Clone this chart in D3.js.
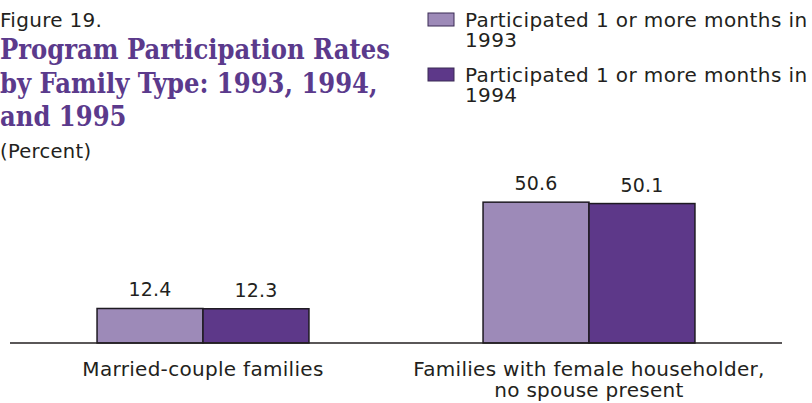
<!DOCTYPE html>
<html>
<head>
<meta charset="utf-8">
<script src="https://cdn.jsdelivr.net/npm/d3@7"></script>
<style>
  body { margin: 0; background: #fff; }
  svg { display: block; }
  .sans { font-family: "DejaVu Sans", sans-serif; fill: #231f20; }
  .title { font-family: "DejaVu Serif Condensed", "DejaVu Serif", serif; font-weight: bold; fill: #5b3a8c; }
</style>
</head>
<body>
<svg id="chart" width="812" height="403"></svg>
<script>
//
// Data
//
var categories = ["Married-couple families", "Families with female householder,\nno spouse present"];
var series = ["Participated 1 or more months in\n1993", "Participated 1 or more months in\n1994"];
var values1993 = [12.4, 50.6];
var values1994 = [12.3, 50.1];

var colors = ["#9d8ab8", "#5d3889"];

var svg = d3.select("#chart");

// Heading
svg.append("text").attr("class", "sans")
    .attr("x", 0).attr("y", 27)
    .style("font-size", "20px")
    .style("letter-spacing", "0.3px")
    .text("Figure 19.");

var titleLines = ["Program Participation Rates", "by Family Type: 1993, 1994,", "and 1995"];
svg.append("g").selectAll("text")
    .data(titleLines)
    .enter().append("text")
    .attr("class", "title")
    .attr("x", 0)
    .attr("y", function (d, i) { return 59 + i * 33.5; })
    .style("font-size", "27px")
    .text(function (d) { return d; });

svg.append("text").attr("class", "sans")
    .attr("x", 0).attr("y", 158)
    .style("font-size", "19.5px")
    .style("letter-spacing", "0.3px")
    .text("(Percent)");

// Legend
var legend = svg.append("g").selectAll("g")
    .data(series)
    .enter().append("g")
    .attr("transform", function (d, i) { return "translate(428," + (13 + i * 55) + ")"; });

legend.append("rect")
    .attr("width", 26).attr("height", 13)
    .attr("fill", function (d, i) { return colors[i]; })
    .attr("stroke", "#3a2a55").attr("stroke-width", 1);

legend.append("text").attr("class", "sans")
    .style("font-size", "20px")
    .style("letter-spacing", "0.4px")
    .selectAll("tspan")
    .data(function (d) { return d.split("\n"); })
    .enter().append("tspan")
    .attr("x", 37)
    .attr("y", function (d, i) { return 14 + i * 20; })
    .text(function (d) { return d; });

//
// Scales
//
var x0 = d3.scaleBand()
    .domain(categories)
    .range([10, 782])
    .paddingInner(0.451)
    .paddingOuter(0.2255);

var x1 = d3.scaleBand()
    .domain([0, 1])
    .range([0, x0.bandwidth()]);

var y = d3.scaleLinear()
    .domain([0, 60])
    .range([343, 176]);

var rows = categories.map(function (c, i) {
    return {cat: c, vals: [values1993[i], values1994[i]]};
});

var groups = svg.append("g").selectAll("g")
    .data(rows)
    .enter().append("g")
    .attr("transform", function (d) { return "translate(" + x0(d.cat) + ",0)"; });

groups.selectAll("rect")
    .data(function (d) { return d.vals; })
    .enter().append("rect")
    .attr("x", function (d, i) { return x1(i); })
    .attr("y", function (d) { return y(d); })
    .attr("width", x1.bandwidth())
    .attr("height", function (d) { return y(0) - y(d); })
    .attr("fill", function (d, i) { return colors[i]; })
    .attr("stroke", "#1e1a22")
    .attr("stroke-width", 1.5);

groups.selectAll("text.val")
    .data(function (d) { return d.vals; })
    .enter().append("text")
    .attr("class", "sans val")
    .attr("x", function (d, i) { return x1(i) + x1.bandwidth() / 2; })
    .attr("y", function (d) { return y(d) - 12; })
    .attr("text-anchor", "middle")
    .style("font-size", "19px")
    .style("letter-spacing", "0.2px")
    .text(function (d) { return d.toFixed(1); });

// Baseline and category labels
svg.append("line")
    .attr("x1", x0.range()[0]).attr("x2", x0.range()[1])
    .attr("y1", y(0)).attr("y2", y(0))
    .attr("stroke", "#231f20").attr("stroke-width", 1.5);

svg.append("g").selectAll("text")
    .data(categories)
    .enter().append("text")
    .attr("class", "sans")
    .attr("text-anchor", "middle")
    .style("font-size", "20px")
    .style("letter-spacing", "0.3px")
    .selectAll("tspan")
    .data(function (d) {
        var cx = x0(d) + x0.bandwidth() / 2;
        return d.split("\n").map(function (t) { return {t: t, cx: cx}; });
    })
    .enter().append("tspan")
    .attr("x", function (d) { return d.cx; })
    .attr("y", function (d, i) { return 376 + i * 21; })
    .text(function (d) { return d.t; });
</script>
</body>
</html>
